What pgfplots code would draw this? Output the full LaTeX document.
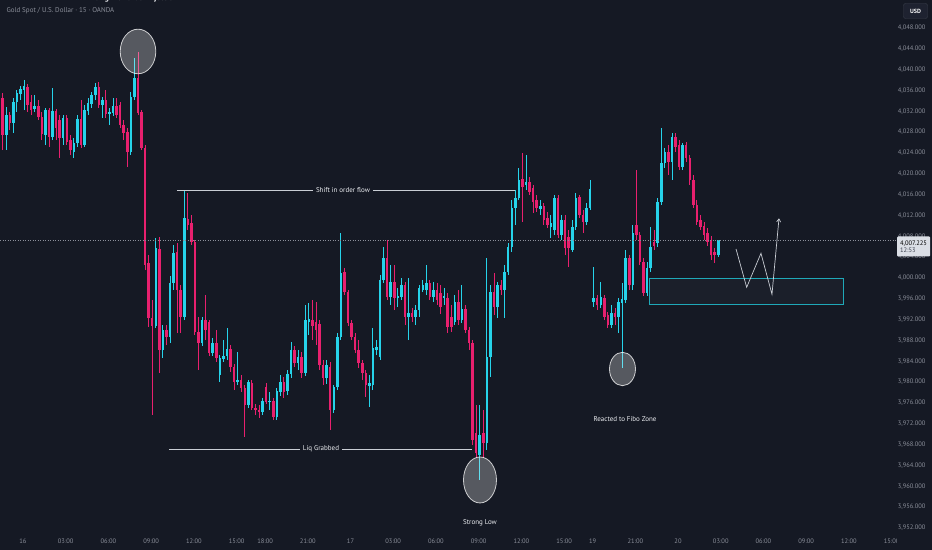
\documentclass[border=0pt]{standalone}
\usepackage{fontspec}
\setmainfont{PT Sans}
\usepackage{pgfplots}
\usepackage{pgfplotstable}
\pgfplotsset{compat=1.18}
\usetikzlibrary{arrows.meta,calc}
\definecolor{bg}{HTML}{151924}
\definecolor{upc}{HTML}{26D3EA}
\definecolor{dnc}{HTML}{E8206E}
\definecolor{tickc}{HTML}{8B8F9A}
\definecolor{annc}{HTML}{ECEEF2}
\definecolor{linec}{HTML}{C9CDD4}
\definecolor{boxc}{HTML}{1FA8B8}
\definecolor{boxfill}{HTML}{1B1F2A}
\definecolor{usdborder}{HTML}{3A3F4C}
\definecolor{usdfill}{HTML}{1E2230}
\definecolor{pricebox}{HTML}{DADEE5}
\definecolor{timec}{HTML}{3A3F4C}

\pgfplotstableread{
i o h l c
1 4034.6 4035.5 4024.6 4027.5
2 4027.5 4032.9 4024.6 4031.3
3 4031.3 4031.9 4028.4 4029.8
4 4029.8 4034.6 4027.9 4033.8
5 4033.8 4036.1 4031.9 4035.5
6 4035.4 4036.9 4034.2 4036.3
7 4036.1 4038.0 4032.3 4036.9
8 4036.7 4037.3 4031.9 4033.2
9 4033.8 4035.2 4031.3 4032.3
10 4032.5 4035.2 4031.9 4033.0
11 4033.0 4034.2 4030.4 4030.9
12 4030.9 4031.9 4026.5 4027.7
13 4027.5 4032.7 4025.6 4032.3
14 4032.3 4032.7 4025.2 4027.1
15 4027.1 4036.5 4026.5 4032.1
16 4032.1 4032.5 4026.5 4028.8
17 4030.4 4031.3 4023.1 4026.9
18 4026.9 4031.3 4025.6 4030.7
19 4030.7 4031.3 4025.6 4026.1
20 4026.5 4027.5 4023.6 4024.6
21 4024.2 4026.9 4023.1 4025.9
22 4025.9 4031.3 4025.2 4030.6
23 4030.6 4034.2 4025.0 4025.6
24 4025.6 4033.2 4025.2 4032.3
25 4032.1 4034.6 4031.3 4033.6
26 4033.4 4035.7 4032.7 4035.2
27 4035.2 4037.5 4034.2 4036.7
28 4036.7 4037.7 4032.7 4033.2
29 4033.2 4034.8 4030.7 4034.2
30 4034.2 4036.1 4030.7 4031.5
31 4031.5 4032.7 4029.4 4031.9
32 4031.7 4034.6 4031.1 4033.0
33 4033.0 4034.6 4030.7 4031.3
34 4033.2 4033.8 4028.8 4029.4
35 4029.4 4030.4 4026.5 4027.9
36 4028.1 4028.8 4021.3 4024.2
37 4024.2 4035.7 4023.6 4034.8
38 4034.8 4042.3 4034.2 4038.4
39 4038.4 4043.4 4031.3 4031.7
40 4031.9 4032.3 4024.6 4025.0
41 4025.0 4025.6 4001.6 4002.5
42 4002.9 4004.4 3990.6 3992.3
43 3992.3 3995.8 3973.7 3990.8
44 3990.8 4007.7 3990.4 4005.8
45 4005.6 4007.9 3981.8 3986.2
46 3986.2 3991.0 3984.7 3990.0
47 3990.0 3991.0 3987.2 3988.7
48 3988.7 4000.4 3987.5 3999.1
49 3999.1 4006.4 3997.7 4004.8
50 4005.0 4006.7 3989.5 3997.7
51 3997.7 3998.7 3989.5 3992.5
52 3992.5 4016.9 3992.0 4011.5
53 4011.4 4016.3 4009.2 4010.2
54 4010.6 4012.1 4006.4 4006.9
55 4006.9 4007.3 3989.1 3989.7
56 3989.7 3992.5 3982.4 3987.5
57 3987.5 3992.5 3987.0 3992.0
58 3992.0 3996.8 3988.1 3990.0
59 3991.6 3992.0 3985.0 3985.6
60 3985.6 3988.5 3985.0 3987.5
61 3987.5 3990.0 3983.9 3984.7
62 3981.4 3985.2 3980.0 3984.7
63 3984.5 3988.0 3983.9 3985.1
64 3985.0 3990.4 3984.3 3986.4
65 3986.4 3987.2 3982.0 3982.9
66 3982.9 3983.5 3978.5 3980.1
67 3980.1 3985.8 3979.5 3980.4
68 3980.4 3981.4 3978.1 3978.9
69 3978.9 3979.5 3969.5 3975.6
70 3975.6 3980.4 3975.1 3980.1
71 3979.9 3980.4 3974.7 3975.1
72 3975.1 3975.8 3973.7 3974.7
73 3974.7 3975.6 3973.1 3974.3
74 3974.3 3977.0 3973.7 3976.4
75 3979.1 3979.9 3975.8 3976.2
76 3976.2 3978.1 3974.7 3976.4
77 3976.4 3977.0 3972.8 3973.3
78 3973.3 3978.9 3972.8 3978.3
79 3978.1 3981.4 3977.4 3980.1
80 3980.1 3981.0 3977.0 3978.1
81 3978.3 3982.4 3977.6 3981.6
82 3981.6 3987.7 3980.8 3986.2
83 3986.2 3987.0 3982.9 3983.7
84 3983.7 3986.2 3982.4 3984.9
85 3984.9 3985.8 3980.8 3981.8
86 3981.8 3994.8 3981.2 3992.0
87 3991.6 3995.2 3989.1 3992.2
88 3992.0 3995.8 3988.1 3990.8
89 3991.6 3995.4 3987.2 3990.0
90 3991.2 3992.0 3982.4 3983.3
91 3983.3 3984.3 3979.5 3980.8
92 3980.8 3984.3 3979.7 3983.3
93 3982.9 3983.9 3970.8 3974.7
94 3974.7 3979.5 3974.1 3979.1
95 3979.1 3989.5 3978.5 3988.7
96 3988.7 4008.7 3988.1 4001.0
97 4001.2 4001.9 3996.8 3997.3
98 3997.3 3997.7 3990.8 3991.4
99 3991.4 3992.0 3988.1 3988.7
100 3988.7 3989.5 3985.6 3986.2
101 3986.2 3988.1 3982.8 3983.7
102 3983.7 3984.3 3980.4 3981.8
103 3981.8 3982.4 3977.2 3979.5
104 3979.3 3981.4 3975.3 3979.9
105 3979.5 3990.4 3978.5 3986.6
106 3986.2 3988.1 3985.2 3986.8
107 3984.9 4000.6 3984.3 3999.6
108 3999.6 4006.0 3999.1 4003.9
109 4003.9 4007.3 3995.8 3996.4
110 3996.4 4002.5 3994.8 3999.3
111 3999.3 4002.5 3993.9 3996.2
112 3996.2 3998.1 3994.4 3996.6
113 3996.4 4000.0 3995.8 3998.7
114 3998.7 3999.3 3991.0 3992.5
115 3992.5 4000.0 3988.1 3993.3
116 3993.3 3994.3 3991.6 3992.5
117 3992.5 3994.8 3991.0 3993.9
118 3993.9 3998.7 3992.5 3998.1
119 3997.7 3999.6 3997.3 3998.7
120 3997.7 4002.5 3996.8 3999.1
121 3999.1 3999.6 3995.8 3996.4
122 3996.4 3999.3 3995.4 3997.7
123 3997.7 3999.1 3994.8 3995.8
124 3997.1 3998.7 3993.1 3994.5
125 3996.2 3998.1 3994.8 3996.6
126 3996.2 3997.1 3989.5 3990.6
127 3992.5 3994.8 3989.7 3990.6
128 3991.6 3996.8 3991.0 3995.4
129 3995.4 3997.7 3991.0 3992.0
130 3992.0 3998.7 3991.4 3994.1
131 3994.1 3994.8 3989.5 3990.0
132 3990.0 3990.6 3986.2 3987.5
133 3987.5 3988.1 3968.0 3968.9
134 3970.3 3975.6 3965.5 3966.4
135 3966.0 3975.6 3961.2 3969.9
136 3970.3 3974.7 3965.5 3968.3
137 3968.3 4003.9 3967.0 3984.9
138 3984.9 3998.7 3981.0 3997.3
139 3997.3 4001.0 3992.9 3994.5
140 3994.5 3999.3 3992.3 3998.7
141 3998.7 3999.6 3996.8 3997.7
142 3997.7 4002.5 3992.3 4001.2
143 4001.2 4006.7 4000.6 4006.0
144 4006.0 4015.0 4005.0 4013.5
145 4013.5 4016.9 4010.2 4015.4
146 4015.4 4021.1 4015.0 4018.8
147 4019.0 4024.0 4010.8 4017.5
148 4017.9 4023.6 4016.9 4018.5
149 4018.5 4019.4 4016.0 4016.5
150 4017.3 4017.9 4012.5 4014.6
151 4015.0 4016.0 4012.7 4013.5
152 4013.3 4015.0 4012.1 4013.9
153 4013.9 4014.4 4010.2 4011.2
154 4011.5 4012.7 4009.6 4010.2
155 4009.8 4012.1 4007.7 4010.6
156 4009.2 4016.0 4008.3 4015.4
157 4015.4 4016.0 4007.7 4008.3
158 4008.3 4012.1 4007.3 4011.2
159 4011.2 4012.1 4004.4 4005.8
160 4007.9 4009.2 4002.1 4005.8
161 4005.4 4011.2 4005.0 4009.8
162 4009.8 4016.3 4009.2 4015.4
163 4015.6 4016.0 4011.5 4012.1
164 4012.1 4013.1 4008.7 4010.8
165 4010.8 4014.4 4010.2 4013.5
166 4013.5 4018.8 4013.1 4017.1
167 3995.4 4002.1 3994.5 3996.2
168 3996.2 3996.8 3993.9 3994.8
169 3994.8 3999.3 3994.3 3996.4
170 3996.2 3996.8 3992.0 3992.5
171 3992.9 3993.5 3990.4 3991.0
172 3991.0 3994.8 3990.4 3993.3
173 3993.3 3994.3 3991.0 3992.5
174 3992.5 3996.2 3989.5 3995.4
175 3995.2 3999.1 3982.8 3996.0
176 3995.8 4005.4 3995.2 4003.9
177 4003.9 4004.4 3997.7 3998.7
178 3998.7 4010.2 3997.7 4008.7
179 4010.2 4020.8 4007.3 4008.3
180 4008.3 4008.9 4002.5 4003.1
181 4003.1 4003.9 3996.6 3997.1
182 3997.1 4003.1 3996.6 4001.9
183 4001.9 4009.8 4001.2 4006.0
184 4006.9 4009.2 4005.4 4006.2
185 4006.7 4015.4 4006.0 4014.6
186 4014.6 4028.8 4014.0 4022.1
187 4022.1 4025.0 4021.1 4024.2
188 4024.2 4025.6 4019.8 4022.3
189 4022.3 4027.9 4018.8 4027.1
190 4027.1 4027.9 4024.2 4025.2
191 4025.6 4026.5 4020.8 4021.3
192 4021.3 4025.9 4020.8 4025.6
193 4025.6 4026.1 4022.3 4023.1
194 4023.1 4023.6 4017.9 4018.8
195 4018.8 4019.8 4013.5 4014.0
196 4014.0 4015.0 4010.2 4010.8
197 4011.2 4012.1 4009.2 4009.8
198 4010.0 4010.8 4007.3 4008.3
199 4008.7 4009.6 4006.2 4006.9
200 4007.3 4008.1 4003.5 4004.4
201 4005.0 4005.8 4002.9 4004.4
202 4004.4 4007.3 4004.0 4007.2
}\candles

\begin{document}
\begin{tikzpicture}
\begin{axis}[name=ax, scale only axis, width=932pt, height=550pt,
  xmin=0.2416, xmax=262.04, ymin=3947.776, ymax=4053.376,
  axis background/.style={fill=bg},
  axis line style={draw=none},
  major tick length=0pt, minor tick num=0,
  xtick={6.7,18.7,30.7,42.7,54.7,66.7,74.7,86.7,98.7,110.7,122.7,134.7,146.7,158.7,166.7,178.7,190.7,202.7,214.7,226.7,238.7,250.7},
  xticklabels={16,03:00,06:00,09:00,12:00,15:00,18:00,21:00,17,03:00,06:00,09:00,12:00,15:00,19,21:00,20,03:00,06:00,09:00,12:00,15:00},
  ytick={3952,3956,3960,3964,3968,3972,3976,3980,3984,3988,3992,3996,4000,4004,4008,4012,4016,4020,4024,4028,4032,4036,4040,4044,4048},
  yticklabels={{3,952.000},{3,956.000},{3,960.000},{3,964.000},{3,968.000},{3,972.000},{3,976.000},{3,980.000},{3,984.000},{3,988.000},{3,992.000},{3,996.000},{4,000.000},{4,004.000},{4,008.000},{4,012.000},{4,016.000},{4,020.000},{4,024.000},{4,028.000},{4,032.000},{4,036.000},{4,040.000},{4,044.000},{4,048.000}},
  yticklabel pos=right,
  yticklabel style={font=\fontsize{6.5}{7}\selectfont, text=tickc, anchor=east, xshift=-3pt},
  xticklabel style={font=\fontsize{6.5}{7}\selectfont, text=tickc, anchor=center, yshift=9pt},
]
% wicks and bodies
\addplot[draw=none, mark=none, forget plot,
  restrict expr to domain={\thisrow{c}-\thisrow{o}}{0:500},
  error bars/.cd, y dir=both, y explicit, error mark=none,
  error bar style={draw=upc, line width=0.9pt}]
  table[x=i, y expr={(\thisrow{h}+\thisrow{l})/2}, y error expr={(\thisrow{h}-\thisrow{l})/2}] {\candles};
\addplot[draw=none, mark=none, forget plot,
  restrict expr to domain={\thisrow{c}-\thisrow{o}}{-500:0},
  error bars/.cd, y dir=both, y explicit, error mark=none,
  error bar style={draw=dnc, line width=0.9pt}]
  table[x=i, y expr={(\thisrow{h}+\thisrow{l})/2}, y error expr={(\thisrow{h}-\thisrow{l})/2}] {\candles};
\addplot[draw=none, mark=none, forget plot,
  restrict expr to domain={\thisrow{c}-\thisrow{o}}{0:500},
  error bars/.cd, y dir=both, y explicit, error mark=none,
  error bar style={draw=upc, line width=2.5pt}]
  table[x=i, y expr={(\thisrow{o}+\thisrow{c})/2}, y error expr={abs(\thisrow{c}-\thisrow{o})/2}] {\candles};
\addplot[draw=none, mark=none, forget plot,
  restrict expr to domain={\thisrow{c}-\thisrow{o}}{-500:0},
  error bars/.cd, y dir=both, y explicit, error mark=none,
  error bar style={draw=dnc, line width=2.5pt}]
  table[x=i, y expr={(\thisrow{o}+\thisrow{c})/2}, y error expr={abs(\thisrow{c}-\thisrow{o})/2}] {\candles};

% last price line
\draw[tickc, line width=0.6pt, dash pattern=on 1pt off 1.5pt] (axis cs:0.2416,4007.225) -- (axis cs:251.9,4007.225);

% horizontal levels
\draw[linec, line width=0.9pt] (axis cs:49.96,4016.90) -- (axis cs:145.04,4016.90);
\node[fill=bg, inner xsep=3pt, inner ysep=1pt, text=annc, font=\fontsize{7}{8}\selectfont] at (axis cs:96.59,4016.90) {Shift in order flow};
\draw[linec, line width=0.9pt] (axis cs:47.71,3967.17) -- (axis cs:132.83,3967.17);
\node[fill=bg, inner xsep=3pt, inner ysep=1pt, text=annc, font=\fontsize{7}{8}\selectfont] at (axis cs:90.41,3967.17) {Liq Grabbed};

% circles
\draw[fill=white, fill opacity=0.28, draw=white, draw opacity=0.75, line width=0.8pt] (axis cs:39.01,4043.49) ellipse [x radius=17.8pt, y radius=22.3pt];
\draw[fill=white, fill opacity=0.28, draw=white, draw opacity=0.75, line width=0.8pt] (axis cs:135.07,3961.22) ellipse [x radius=16.5pt, y radius=23pt];
\draw[fill=white, fill opacity=0.28, draw=white, draw opacity=0.75, line width=0.8pt] (axis cs:175.10,3982.53) ellipse [x radius=13pt, y radius=16.7pt];

\node[text=annc, font=\fontsize{7}{8}\selectfont] at (axis cs:135.07,3952.96) {Strong Low};
\node[text=annc, font=\fontsize{7}{8}\selectfont] at (axis cs:175.80,3972.93) {Reacted to Fibo Zone};

% zone box
\draw[draw=boxc, line width=1pt, fill=boxfill] (axis cs:182.82,3999.81) rectangle (axis cs:237.04,3994.82);

% projected path
\draw[linec, line width=0.7pt, -{Straight Barb[length=3pt,width=4pt]}]
  (axis cs:206.99,4005.57) -- (axis cs:209.98,3998.21) -- (axis cs:214.0,4004.74)
  -- (axis cs:217.09,3996.87) -- (axis cs:219.06,4011.46);
\end{axis}

% header texts and price-scale widgets
\node[overlay, anchor=west, text=tickc, font=\fontsize{7}{8}\selectfont] at ($(ax.north west)+(3pt,-11pt)$) {Gold Spot / U.S. Dollar · 15 · OANDA};
\node[overlay, text=annc, font=\bfseries\fontsize{8}{9}\selectfont] at ($(ax.north west)+(136pt,1pt)$) {Origin of Order Injection};
\fill[bg] ($(ax.south east)+(-35pt,0pt)$) rectangle ($(ax.south east)+(0pt,17pt)$);
\node[draw=usdborder, fill=usdfill, rounded corners=2pt, text=white, font=\bfseries\fontsize{6}{7}\selectfont, minimum width=24pt, minimum height=15pt, inner sep=1pt] at ($(ax.north west)+(915.5pt,-11pt)$) {USD};
\node[fill=pricebox, rounded corners=1pt, text=black, align=left, font=\fontsize{6.5}{7.5}\selectfont, inner sep=1.5pt, minimum width=33pt, minimum height=20pt] at ($(ax.north west)+(913.5pt,-246.5pt)$) {4,007.225\\\textcolor{timec}{12:53}};

\pgfresetboundingbox
\path[use as bounding box] (ax.south west) rectangle (ax.north east);
\end{tikzpicture}
\end{document}
